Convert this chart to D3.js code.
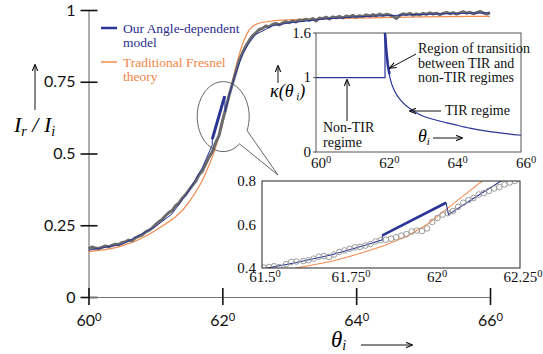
<!DOCTYPE html>
<html>
<head>
<meta charset="utf-8">
<script src="https://cdn.jsdelivr.net/npm/d3@7"></script>
<style>
  html, body { margin: 0; padding: 0; background: #fff; }
  svg { display: block; }
  .serif { font-family: "Liberation Serif", "DejaVu Serif", serif; }
  .sans { font-family: Lato, "Open Sans", sans-serif; }
</style>
</head>
<body>
<svg id="chart" width="543" height="354"></svg>
<script>
const dataAngles = [60.00, 60.05, 60.10, 60.15, 60.20, 60.25, 60.30, 60.35, 60.40, 60.45,
  60.50, 60.55, 60.60, 60.65, 60.70, 60.75, 60.80, 60.85, 60.90, 60.95,
  61.00, 61.05, 61.10, 61.15, 61.20, 61.25, 61.30, 61.35, 61.40, 61.45,
  61.50, 61.55, 61.60, 61.65, 61.70, 61.75, 61.80, 61.85, 61.90, 61.95,
  62.00, 62.05, 62.10, 62.15, 62.20, 62.25, 62.30, 62.35, 62.40, 62.45,
  62.50, 62.55, 62.60, 62.65, 62.70, 62.75, 62.80, 62.85, 62.90, 62.95,
  63.00, 63.05, 63.10, 63.15, 63.20, 63.25, 63.30, 63.35, 63.40, 63.45,
  63.50, 63.55, 63.60, 63.65, 63.70, 63.75, 63.80, 63.85, 63.90, 63.95,
  64.00, 64.05, 64.10, 64.15, 64.20, 64.25, 64.30, 64.35, 64.40, 64.45,
  64.50, 64.55, 64.60, 64.65, 64.70, 64.75, 64.80, 64.85, 64.90, 64.95,
  65.00, 65.05, 65.10, 65.15, 65.20, 65.25, 65.30, 65.35, 65.40, 65.45,
  65.50, 65.55, 65.60, 65.65, 65.70, 65.75, 65.80, 65.85, 65.90, 65.95, 66.00];
const dataValues = [0.168, 0.174, 0.171, 0.169, 0.173, 0.178, 0.175, 0.180, 0.184, 0.183,
  0.190, 0.192, 0.198, 0.196, 0.206, 0.211, 0.216, 0.226, 0.232, 0.240,
  0.252, 0.262, 0.270, 0.283, 0.294, 0.301, 0.318, 0.327, 0.344, 0.356,
  0.372, 0.388, 0.402, 0.425, 0.438, 0.462, 0.487, 0.506, 0.538, 0.562,
  0.612, 0.655, 0.702, 0.742, 0.782, 0.822, 0.850, 0.874, 0.893, 0.910,
  0.920, 0.932, 0.936, 0.944, 0.941, 0.950, 0.953, 0.948, 0.955, 0.959,
  0.956, 0.962, 0.958, 0.965, 0.963, 0.968, 0.964, 0.970, 0.962, 0.972,
  0.970, 0.975, 0.969, 0.976, 0.973, 0.978, 0.972, 0.979, 0.976, 0.981,
  0.975, 0.980, 0.977, 0.983, 0.979, 0.984, 0.980, 0.986, 0.981, 0.985,
  0.983, 0.978, 0.970, 0.981, 0.987, 0.984, 0.988, 0.982, 0.986, 0.983,
  0.988, 0.985, 0.990, 0.986, 0.989, 0.984, 0.988, 0.992, 0.987, 0.991,
  0.986, 0.990, 0.994, 0.989, 0.992, 0.987, 0.991, 0.995, 0.990, 0.986, 0.990];

// Angle-dependent model (blue) and Fresnel theory (orange), main panel.
const modelAngles = [60.0, 60.5, 61.0, 61.25, 61.5, 61.7, 61.85, 61.85, 62.035, 62.042, 62.1, 62.2, 62.3, 62.4, 62.5, 62.75, 63.0, 63.5, 64.0, 65.0, 66.0];
const modelValues = [0.163, 0.183, 0.245, 0.29, 0.37, 0.45, 0.53, 0.55, 0.70, 0.645, 0.70, 0.78, 0.845, 0.885, 0.915, 0.945, 0.955, 0.968, 0.976, 0.985, 0.990];
const transitionAngles = [61.85, 62.035];
const transitionValues = [0.55, 0.70];
const fresnelAngles = [60.0, 60.5, 61.0, 61.5, 61.75, 62.0, 62.1, 62.2, 62.3, 62.4, 62.5, 62.75, 63.0, 64.0, 65.0, 66.0];
const fresnelValues = [0.158, 0.178, 0.232, 0.33, 0.43, 0.60, 0.70, 0.80, 0.88, 0.93, 0.95, 0.962, 0.966, 0.972, 0.976, 0.978];

// Zoomed inset (61.5 - 62.25 deg).
const zoomDataAngles = [61.505, 61.52, 61.535, 61.55, 61.57, 61.585, 61.60, 61.62, 61.635, 61.65,
  61.665, 61.68, 61.695, 61.71, 61.725, 61.74, 61.755, 61.77, 61.785, 61.80,
  61.815, 61.83, 61.845, 61.86, 61.875, 61.89, 61.905, 61.92, 61.935, 61.95,
  61.965, 61.98, 61.995, 62.01, 62.025, 62.04, 62.055, 62.07, 62.085, 62.10,
  62.115, 62.13, 62.145, 62.16, 62.175, 62.19, 62.205, 62.22, 62.235];
const zoomDataValues = [0.402, 0.405, 0.408, 0.404, 0.418, 0.428, 0.430, 0.432, 0.436, 0.443,
  0.452, 0.455, 0.451, 0.462, 0.474, 0.481, 0.488, 0.495, 0.497, 0.503,
  0.510, 0.522, 0.528, 0.530, 0.535, 0.541, 0.549, 0.556, 0.568, 0.572,
  0.570, 0.582, 0.612, 0.630, 0.645, 0.652, 0.662, 0.681, 0.700, 0.712,
  0.722, 0.738, 0.744, 0.755, 0.766, 0.772, 0.784, 0.793, 0.800];
const zoomModelAngles = [61.5, 61.6, 61.7, 61.8, 61.85, 61.85, 62.035, 62.042, 62.12, 62.2, 62.25];
const zoomModelValues = [0.395, 0.425, 0.46, 0.505, 0.53, 0.55, 0.70, 0.645, 0.725, 0.805, 0.85];
const zoomFresnelAngles = [61.6, 61.7, 61.77, 61.85, 61.92, 61.98, 62.04, 62.1, 62.14, 62.2];
const zoomFresnelValues = [0.40, 0.43, 0.46, 0.50, 0.545, 0.60, 0.675, 0.75, 0.80, 0.87];

// kappa(theta_i) inset.
const kappaAngles = [60, 62.02, 62.02, 62.06, 62.1, 62.17, 62.3, 62.5, 62.75, 63, 63.5, 64, 64.5, 65, 65.5, 66];
const kappaValues = [1, 1, 1.6, 1.35, 1.18, 0.99, 0.82, 0.685, 0.585, 0.51, 0.43, 0.375, 0.32, 0.28, 0.25, 0.225];
const kappaTransitionAngles = [62.02, 62.06, 62.1, 62.15];
const kappaTransitionValues = [1.6, 1.35, 1.18, 1.05];

const mainYTicks = [0, 0.25, 0.5, 0.75, 1];
const mainXTicks = [60, 62, 64, 66];
const kappaYTicks = [0, 1, 1.6];
const kappaXTicks = [60, 62, 64, 66];
const zoomYTicks = [0.4, 0.6, 0.8];
const zoomXTicks = [61.5, 61.75, 62, 62.25];

const BLUE = '#2a3596';
const ORANGE = '#f28c4e';
const GREY = '#6b6b6b';

const svg = d3.select('#chart');

const defs = svg.append('defs');
defs.append('marker')
  .attr('id', 'head').attr('viewBox', '0 0 10 10')
  .attr('refX', 9).attr('refY', 5)
  .attr('markerWidth', 7).attr('markerHeight', 7)
  .attr('markerUnits', 'userSpaceOnUse')
  .attr('orient', 'auto')
  .append('path').attr('d', 'M0,1 L10,5 L0,9').attr('fill', 'none').attr('stroke', '#111').attr('stroke-width', 1.6);

function arrow(g, x1, y1, x2, y2) {
  g.append('line')
    .attr('x1', x1).attr('y1', y1).attr('x2', x2).attr('y2', y2)
    .attr('stroke', '#111').attr('stroke-width', 1)
    .attr('marker-end', 'url(#head)');
}

// Adds a raised "0" after the tick number (degrees written as in the figure).
function degreeText(sel, fmt) {
  sel.each(function (d) {
    const t = d3.select(this).text(null);
    t.append('tspan').text(fmt(d));
    t.append('tspan').attr('dy', '-0.45em').attr('font-size', '0.7em').text('0');
  });
}

// ---------- main panel ----------
const x = d3.scaleLinear().domain([60, 66]).range([88.5, 490]);
const y = d3.scaleLinear().domain([0, 1]).range([297, 10]);

const yAxis = svg.append('g')
  .attr('transform', `translate(${x(60)},0)`)
  .call(d3.axisLeft(y).tickValues(mainYTicks).tickSizeInner(8).tickSizeOuter(0).tickPadding(5).tickFormat(d => String(d)));
yAxis.select('.domain').attr('stroke', '#777').attr('stroke-width', 1.2);
yAxis.selectAll('.tick line').attr('x1', 9).attr('stroke', '#111').attr('stroke-width', 1.6);
yAxis.selectAll('.tick text').attr('class', 'sans').attr('font-size', 16).attr('fill', '#111');

const xAxis = svg.append('g')
  .attr('transform', `translate(0,${y(0)})`)
  .call(d3.axisBottom(x).tickValues(mainXTicks).tickSizeInner(8).tickSizeOuter(0).tickPadding(10));
xAxis.select('.domain').attr('stroke', '#777').attr('stroke-width', 1.2);
xAxis.selectAll('.tick line').attr('y1', -9).attr('stroke', '#111').attr('stroke-width', 1.6);
xAxis.selectAll('.tick text').attr('class', 'sans').attr('font-size', 16).attr('fill', '#111')
  .call(degreeText, d => String(d));

const line = d3.line().x(d => x(d[0])).y(d => y(d[1]));

svg.append('path')
  .datum(d3.zip(fresnelAngles, fresnelValues))
  .attr('d', d3.line().x(d => x(d[0])).y(d => y(d[1])).curve(d3.curveMonotoneX))
  .attr('fill', 'none').attr('stroke', ORANGE).attr('stroke-width', 1.2);

svg.append('path')
  .datum(d3.zip(dataAngles, dataValues))
  .attr('d', line)
  .attr('fill', 'none').attr('stroke', GREY).attr('stroke-width', 3).attr('stroke-linejoin', 'round');

svg.append('path')
  .datum(d3.zip(modelAngles, modelValues))
  .attr('d', line)
  .attr('fill', 'none').attr('stroke', BLUE).attr('stroke-width', 1);

svg.append('path')
  .datum(d3.zip(transitionAngles, transitionValues))
  .attr('d', line)
  .attr('fill', 'none').attr('stroke', BLUE).attr('stroke-width', 3);

// legend
const legend = svg.append('g').attr('class', 'serif').attr('font-size', 13.5);
legend.append('line').attr('x1', 101).attr('x2', 117).attr('y1', 28).attr('y2', 28).attr('stroke', BLUE).attr('stroke-width', 2.5);
legend.append('text').attr('x', 123).attr('y', 32.5).attr('fill', '#2b2e8e').text('Our Angle-dependent');
legend.append('text').attr('x', 123).attr('y', 47).attr('fill', '#2b2e8e').text('model');
legend.append('line').attr('x1', 101).attr('x2', 117).attr('y1', 62).attr('y2', 62).attr('stroke', ORANGE).attr('stroke-width', 1.5);
legend.append('text').attr('x', 123).attr('y', 66.5).attr('fill', '#ef8448').text('Traditional Fresnel');
legend.append('text').attr('x', 123).attr('y', 81).attr('fill', '#ef8448').text('theory');

// axis titles
const yTitle = svg.append('text').attr('class', 'serif').attr('font-style', 'italic').attr('font-size', 22).attr('x', 14).attr('y', 132);
yTitle.append('tspan').text('I');
yTitle.append('tspan').attr('font-size', 14).attr('dy', 4).text('r');
yTitle.append('tspan').attr('dy', -4).text(' / I');
yTitle.append('tspan').attr('font-size', 14).attr('dy', 4).text('i');
arrow(svg, 35, 110, 35, 65);

const xTitle = svg.append('text').attr('class', 'serif').attr('font-style', 'italic').attr('font-size', 23).attr('x', 331).attr('y', 347);
xTitle.append('tspan').text('θ');
xTitle.append('tspan').attr('font-size', 14).attr('dy', 3).text('i');
arrow(svg, 361, 345, 412, 345);

// ---------- zoom inset ----------
const zx = d3.scaleLinear().domain([61.5, 62.25]).range([262, 520]);
const zy = d3.scaleLinear().domain([0.4, 0.8]).range([268, 181]);

// callout ellipse around the transition, pointing to the zoom inset
const cx = x(62.0), cy = y(0.625), rx = 26, ry = 35;
const pA = [cx + rx * 0.95, cy + ry * 0.37];
const pB = [cx + rx * 0.66, cy + ry * 0.75];
const tip = [zx(61.5) + 16, zy(0.8) - 6];
svg.append('path')
  .attr('d', `M${pB} A${rx},${ry} 0 1 1 ${pA} L${tip} Z`)
  .attr('fill', 'none').attr('stroke', '#555').attr('stroke-width', 0.9);

const zoomG = svg.append('g');
zoomG.append('rect').attr('x', zx(61.5)).attr('y', zy(0.8)).attr('width', zx(62.25) - zx(61.5)).attr('height', zy(0.4) - zy(0.8))
  .attr('fill', '#fff').attr('stroke', 'none');
defs.append('clipPath').attr('id', 'zclip').append('rect')
  .attr('x', zx(61.5)).attr('y', zy(0.8)).attr('width', zx(62.25) - zx(61.5)).attr('height', zy(0.4) - zy(0.8));
const zPlot = zoomG.append('g').attr('clip-path', 'url(#zclip)');
const zline = d3.line().x(d => zx(d[0])).y(d => zy(d[1]));

zPlot.append('path').datum(d3.zip(zoomFresnelAngles, zoomFresnelValues))
  .attr('d', zline).attr('fill', 'none').attr('stroke', ORANGE).attr('stroke-width', 1.1);
zPlot.append('path').datum(d3.zip(zoomModelAngles, zoomModelValues))
  .attr('d', zline).attr('fill', 'none').attr('stroke', BLUE).attr('stroke-width', 1.1);
zPlot.append('path').datum(d3.zip(transitionAngles, transitionValues))
  .attr('d', zline).attr('fill', 'none').attr('stroke', BLUE).attr('stroke-width', 2.6);
zPlot.selectAll('circle').data(d3.zip(zoomDataAngles, zoomDataValues)).join('circle')
  .attr('cx', d => zx(d[0])).attr('cy', d => zy(d[1])).attr('r', 2.8)
  .attr('fill', 'none').attr('stroke', '#9a9a9a').attr('stroke-width', 1);

zoomG.append('rect').attr('x', zx(61.5)).attr('y', zy(0.8)).attr('width', zx(62.25) - zx(61.5)).attr('height', zy(0.4) - zy(0.8))
  .attr('fill', 'none').attr('stroke', '#222').attr('stroke-width', 1);

zoomG.append('g').attr('class', 'serif').attr('font-size', 15).attr('fill', '#111')
  .selectAll('text').data(zoomYTicks).join('text')
  .attr('x', zx(61.5) - 6).attr('y', d => zy(d)).attr('dy', '0.35em').attr('text-anchor', 'end')
  .text(d => d.toFixed(1));
zoomG.append('g').attr('class', 'serif').attr('font-size', 15).attr('fill', '#111')
  .selectAll('text').data(zoomXTicks).join('text')
  .attr('x', d => zx(d) + 3).attr('y', zy(0.4) + 14).attr('text-anchor', 'middle')
  .call(degreeText, d => String(d));

// ---------- kappa inset ----------
const kx = d3.scaleLinear().domain([60, 66]).range([316, 521]);
const ky = d3.scaleLinear().domain([0, 1.6]).range([152, 33]);
const kG = svg.append('g');
kG.append('rect').attr('x', kx(60)).attr('y', ky(1.6)).attr('width', kx(66) - kx(60)).attr('height', ky(0) - ky(1.6))
  .attr('fill', '#fff').attr('stroke', '#555').attr('stroke-width', 1);
const kline = d3.line().x(d => kx(d[0])).y(d => ky(d[1]));
kG.append('path').datum(d3.zip(kappaAngles, kappaValues))
  .attr('d', kline.curve(d3.curveMonotoneX)).attr('fill', 'none').attr('stroke', BLUE).attr('stroke-width', 1.2);
kG.append('path').datum(d3.zip(kappaTransitionAngles, kappaTransitionValues))
  .attr('d', d3.line().x(d => kx(d[0])).y(d => ky(d[1]))).attr('fill', 'none').attr('stroke', BLUE).attr('stroke-width', 2.6);

kG.append('g').attr('class', 'serif').attr('font-size', 15).attr('fill', '#111')
  .selectAll('text').data(kappaYTicks).join('text')
  .attr('x', kx(60) - 5).attr('y', d => ky(d)).attr('dy', '0.3em').attr('text-anchor', 'end')
  .text(d => String(d));
kG.append('g').attr('stroke', '#555')
  .selectAll('line').data(kappaYTicks).join('line')
  .attr('x1', kx(60) - 3).attr('x2', kx(60)).attr('y1', d => ky(d)).attr('y2', d => ky(d));
kG.append('g').attr('class', 'serif').attr('font-size', 15).attr('fill', '#111')
  .selectAll('text').data(kappaXTicks).join('text')
  .attr('x', d => kx(d) + 5).attr('y', ky(0) + 16).attr('text-anchor', 'middle')
  .call(degreeText, d => String(d));

const kText = kG.append('g').attr('class', 'serif').attr('font-size', 14).attr('fill', '#111');
kText.append('text').attr('x', 418).attr('y', 53).text('Region of transition');
kText.append('text').attr('x', 418).attr('y', 67.5).text('between TIR and');
kText.append('text').attr('x', 418).attr('y', 82).text('non-TIR regimes');
kText.append('text').attr('x', 445).attr('y', 115).text('TIR regime');
kText.append('text').attr('x', 323).attr('y', 132).text('Non-TIR');
kText.append('text').attr('x', 323).attr('y', 147).text('regime');
arrow(kG, 416, 54, 390, 68);
arrow(kG, 441, 111, 410, 111);
arrow(kG, 347, 121, 347, 80);

const kTheta = kG.append('text').attr('class', 'serif').attr('font-style', 'italic').attr('font-size', 18).attr('x', 418).attr('y', 142);
kTheta.append('tspan').text('θ');
kTheta.append('tspan').attr('font-size', 11).attr('dy', 3).text('i');
arrow(kG, 433, 138, 462, 138);

const kTitle = svg.append('text').attr('class', 'serif').attr('font-style', 'italic').attr('font-size', 18).attr('x', 270).attr('y', 97);
kTitle.append('tspan').text('κ(θ');
kTitle.append('tspan').attr('font-size', 11).attr('dy', 3).text(' i');
kTitle.append('tspan').attr('dy', -3).text(')');
arrow(svg, 278, 83, 278, 66);
</script>
</body>
</html>
